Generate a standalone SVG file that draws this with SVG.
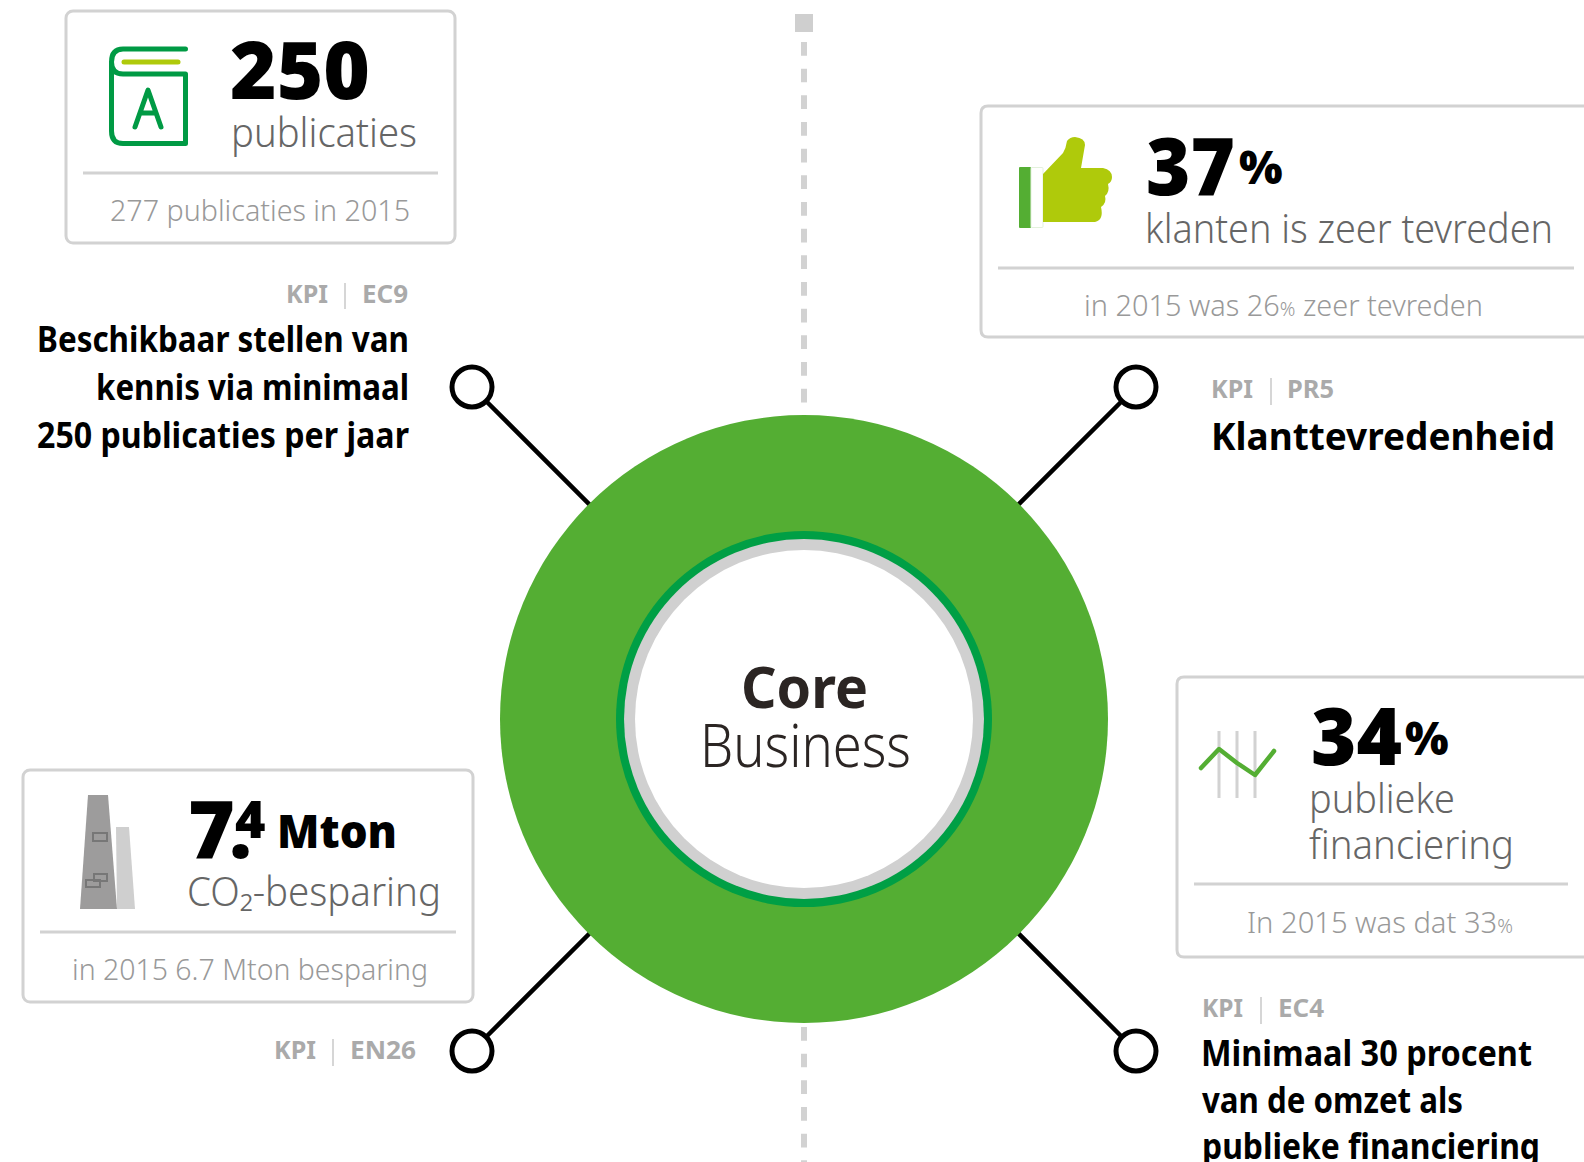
<svg xmlns="http://www.w3.org/2000/svg" width="1584" height="1162" viewBox="0 0 1584 1162">
<style>
text{font-family:"Noto Sans","Open Sans","Liberation Sans",sans-serif}
.box{fill:#fff;stroke:#d2d2d2;stroke-width:3}
.div{stroke:#d2d2d2;stroke-width:3;fill:none}
.big{font-weight:900;fill:#000;font-size:80px}
.pct{font-weight:900;fill:#000;font-size:46px}
.sub{font-weight:350;fill:#666;font-size:40px}
.was{font-weight:350;fill:#999;font-size:30px}
.kpi{font-weight:700;fill:#aaa;font-size:25px}
.bar{stroke:#c8c8c8;stroke-width:1.5}
.title{font-weight:700;fill:#000;font-size:35px}
.dash{stroke:#d2d2d2;stroke-width:6;stroke-dasharray:13.7 12.97;fill:none}
.conn{stroke:#000;stroke-width:4.5;fill:none}
.dot{fill:#fff;stroke:#000;stroke-width:5}
.book{fill:none;stroke:#009a44;stroke-width:5;stroke-linecap:round;stroke-linejoin:round}
</style>
<g id="connectors">
<rect x="795" y="14" width="18" height="18" fill="#cfcfcf"/>
<path class="dash" d="M804 42V403"/>
<path class="dash" d="M804 1027V1162"/>
<path class="conn" d="M486 401L620 535M1122 401L988 535M486 1037L620 903M1122 1037L988 903"/>
</g>
<g id="core">
<circle cx="804" cy="719" r="304" fill="#54ae33"/>
<circle cx="804" cy="719" r="188" fill="#009f45"/>
<circle cx="804" cy="719" r="180" fill="#d0d0d0"/>
<circle cx="804" cy="719" r="169" fill="#fff"/>
<text x="741" y="708" font-size="58" font-weight="700" fill="#2b2523" textLength="127" lengthAdjust="spacingAndGlyphs">Core</text>
<text x="700" y="767" font-size="60" font-weight="300" fill="#2b2523" textLength="211" lengthAdjust="spacingAndGlyphs">Business</text>
</g>
<g id="kpi-publicaties">
<rect class="box" x="66" y="11" width="389" height="232" rx="7"/>
<path class="book" d="M185.500 49H123Q111.500 49 111.500 62V131Q111.500 143.500 123 143.500H185.500V74H123Q111.500 74 111.500 62"/>
<path d="M124 62H178" fill="none" stroke="#afca0b" stroke-width="5" stroke-linecap="round"/>
<path class="book" d="M135 127L148 90L161 127M140 113H156"/>
<text class="big" x="230" y="99" textLength="140" lengthAdjust="spacingAndGlyphs">250</text>
<text class="sub" x="231" y="147" textLength="186" lengthAdjust="spacingAndGlyphs">publicaties</text>
<path class="div" d="M83 173H438"/>
<text class="was" x="110" y="221" textLength="300" lengthAdjust="spacingAndGlyphs">277 publicaties in 2015</text>
<text class="kpi" x="286" y="303" textLength="42" lengthAdjust="spacingAndGlyphs">KPI</text>
<path class="bar" d="M345 283V309"/>
<text class="kpi" x="362" y="303" textLength="46" lengthAdjust="spacingAndGlyphs">EC9</text>
<text class="title" x="409" y="352" text-anchor="end" textLength="372" lengthAdjust="spacingAndGlyphs">Beschikbaar stellen van</text>
<text class="title" x="409" y="400" text-anchor="end" textLength="313" lengthAdjust="spacingAndGlyphs">kennis via minimaal</text>
<text class="title" x="409" y="448" text-anchor="end" textLength="372" lengthAdjust="spacingAndGlyphs">250 publicaties per jaar</text>
<circle class="dot" cx="472" cy="387" r="20"/>
</g>
<g id="kpi-klanttevredenheid">
<path class="box" d="M1586 106H988Q981 106 981 113V330Q981 337 988 337H1586"/>
<rect x="1019" y="167" width="12" height="61" rx="1" fill="#54ae33"/>
<rect x="1031" y="167.500" width="12" height="60" rx="1" fill="#fff" stroke="#e3f1dc"/>
<path d="M1043 174L1063 153Q1066 148 1067 141Q1070 137 1075 137Q1085 138 1085 145L1081 168H1103Q1112 170 1112 177Q1112 182 1108 184Q1110 192 1105 196Q1107 203 1101 207Q1104 220 1095 222H1043Z" fill="#afca0b"/>
<text class="big" y="195"><tspan x="1146" textLength="89" lengthAdjust="spacingAndGlyphs">37</tspan><tspan class="pct" x="1239" y="184">%</tspan></text>
<text class="sub" x="1145" y="243" textLength="408" lengthAdjust="spacingAndGlyphs">klanten is zeer tevreden</text>
<path class="div" d="M998 268H1574"/>
<text class="was" x="1084" y="316" textLength="399" lengthAdjust="spacingAndGlyphs">in 2015 was 26<tspan font-size="20">%</tspan> zeer tevreden</text>
<text class="kpi" x="1211" y="398" textLength="42" lengthAdjust="spacingAndGlyphs">KPI</text>
<path class="bar" d="M1271 378V405"/>
<text class="kpi" x="1287" y="398" textLength="47" lengthAdjust="spacingAndGlyphs">PR5</text>
<text class="title" x="1211" y="450" textLength="344" lengthAdjust="spacingAndGlyphs" style="font-size:38px">Klanttevredenheid</text>
<circle class="dot" cx="1136" cy="387" r="20"/>
</g>
<g id="kpi-co2">
<rect class="box" x="23" y="770" width="450" height="232" rx="7"/>
<path d="M116 827H129L135 909H117Z" fill="#cfcfcf"/>
<path d="M88 795H108L117 909H80Z" fill="#9d9c9c"/>
<g fill="none" stroke="#777" stroke-width="2"><rect x="93" y="833" width="14" height="8"/><rect x="94" y="874" width="13" height="7"/><rect x="86" y="880" width="14" height="7"/></g>
<text y="858" class="big"><tspan x="188">7</tspan><tspan x="229">.</tspan><tspan x="235" y="838" style="font-size:52px">4</tspan></text>
<text x="277" y="848" class="pct" textLength="120" lengthAdjust="spacingAndGlyphs">Mton</text>
<text class="sub" x="187" y="906" textLength="254" lengthAdjust="spacingAndGlyphs">CO₂-besparing</text>
<path class="div" d="M40 932H456"/>
<text class="was" x="72" y="980" textLength="356" lengthAdjust="spacingAndGlyphs">in 2015 6.7 Mton besparing</text>
<text class="kpi" x="274" y="1059" textLength="42" lengthAdjust="spacingAndGlyphs">KPI</text>
<path class="bar" d="M333 1039V1066"/>
<text class="kpi" x="350" y="1059" textLength="66" lengthAdjust="spacingAndGlyphs">EN26</text>
<circle class="dot" cx="472" cy="1051" r="20"/>
</g>
<g id="kpi-financiering">
<path class="box" d="M1586 677H1184Q1177 677 1177 684V950Q1177 957 1184 957H1586"/>
<path d="M1219 731V798M1237 731V798M1255 731V798" stroke="#d2d2d2" stroke-width="3" fill="none"/>
<path d="M1201 768L1219 749L1237 763L1255 775L1274 751" fill="none" stroke="#54ae33" stroke-width="4.500" stroke-linecap="round" stroke-linejoin="round"/>
<text class="big" y="765"><tspan x="1311" textLength="91" lengthAdjust="spacingAndGlyphs">34</tspan><tspan class="pct" x="1405" y="755">%</tspan></text>
<text class="sub" x="1309" y="813" textLength="146" lengthAdjust="spacingAndGlyphs">publieke</text>
<text class="sub" x="1309" y="859" textLength="205" lengthAdjust="spacingAndGlyphs">financiering</text>
<path class="div" d="M1194 884H1568"/>
<text class="was" x="1247" y="933" textLength="266" lengthAdjust="spacingAndGlyphs">In 2015 was dat 33<tspan font-size="20">%</tspan></text>
<text class="kpi" x="1202" y="1017" textLength="41" lengthAdjust="spacingAndGlyphs">KPI</text>
<path class="bar" d="M1261 997V1024"/>
<text class="kpi" x="1278" y="1017" textLength="46" lengthAdjust="spacingAndGlyphs">EC4</text>
<text class="title" x="1201" y="1066" textLength="331" lengthAdjust="spacingAndGlyphs">Minimaal 30 procent</text>
<text class="title" x="1202" y="1113" textLength="261" lengthAdjust="spacingAndGlyphs">van de omzet als</text>
<text class="title" x="1202" y="1159" textLength="338" lengthAdjust="spacingAndGlyphs">publieke financiering</text>
<circle class="dot" cx="1136" cy="1051" r="20"/>
</g>
</svg>
